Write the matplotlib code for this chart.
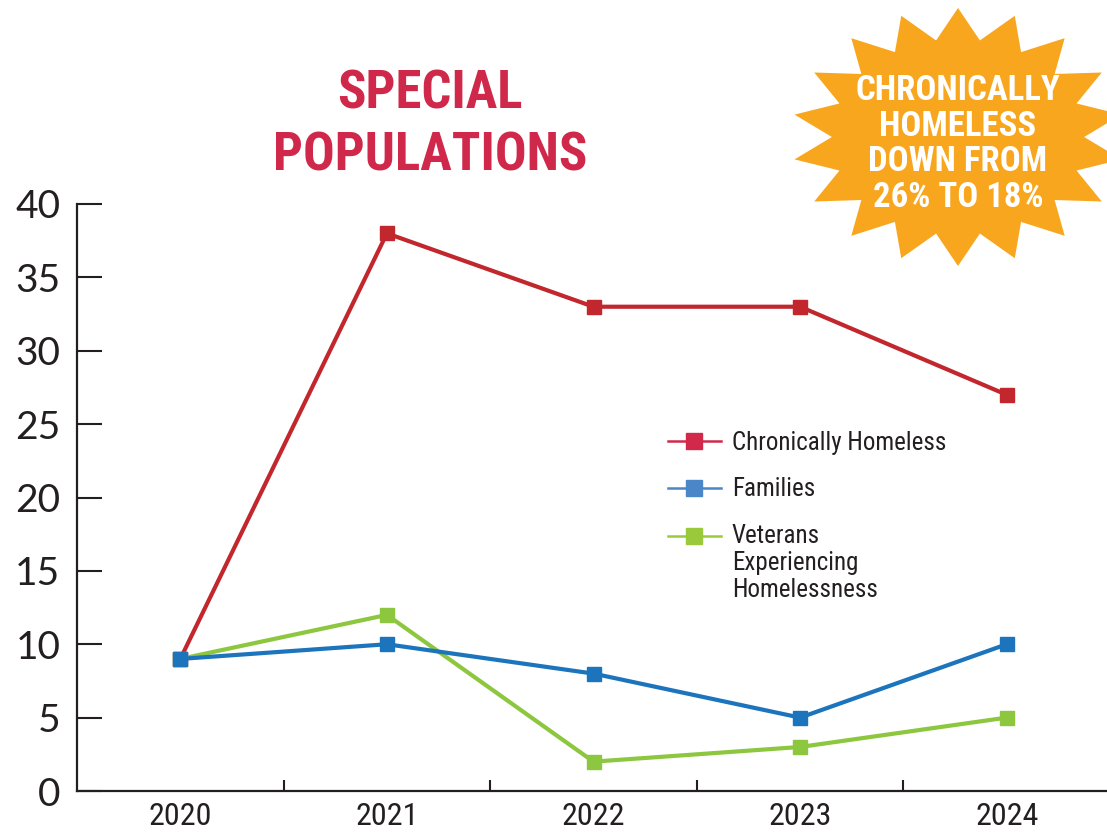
import numpy as np
import matplotlib.pyplot as plt
from matplotlib.lines import Line2D
from matplotlib.patches import Polygon
from matplotlib.legend_handler import HandlerLine2D

years = ['2020', '2021', '2022', '2023', '2024']
chronic = [9, 38, 33, 33, 27]
families = [9, 10, 8, 5, 10]
veterans = [9, 12, 2, 3, 5]
labels = ['Chronically Homeless', 'Families',
          'Veterans\nExperiencing\nHomelessness']

narrow = ['Roboto Condensed', 'Liberation Sans Narrow', 'DejaVu Sans Condensed',
          'Roboto', 'DejaVu Sans']
dark = '#231f20'


class HandlerFirstLine(HandlerLine2D):
    # put the handle beside the first line of a multi-line label
    def __init__(self, shift, **kw):
        super().__init__(**kw)
        self.shift = shift

    def create_artists(self, legend, orig_handle, xdescent, ydescent, width,
                       height, fontsize, trans):
        return super().create_artists(legend, orig_handle, xdescent,
                                      ydescent - 2 * self.shift, width, height,
                                      fontsize, trans)


fig = plt.figure(figsize=(11.07, 8.32), dpi=100)
W, H = 1107, 832
ax = fig.add_axes([77 / W, 1 - 791 / H, 1033 / W, 587 / H])
ax.patch.set_alpha(0)

x = np.arange(len(years))
ax.plot(x, chronic, color='#c1272d', lw=3, marker='s', ms=10.5, zorder=3)
ax.plot(x, veterans, color='#8dc63f', lw=3, marker='s', ms=10.5, zorder=4)
ax.plot(x, families, color='#1c75bc', lw=3, marker='s', ms=10.5, zorder=5)

ax.set_xlim(-0.5, 4.5)
ax.set_ylim(0, 40)
ax.set_yticks(range(0, 41, 5))
ax.tick_params(axis='y', direction='in', length=18, width=1.5, color=dark,
               labelsize=28, labelcolor=dark, pad=12)
for t in ax.get_yticklabels():
    t.set_family(['Lato', 'DejaVu Sans'])

# ticks between categories, labels at category centres
ax.set_xticks(x[:-1] + 0.5)
ax.set_xticklabels([])
ax.tick_params(axis='x', which='major', direction='in', length=8, width=1.5, color=dark)
ax.set_xticks(x, minor=True)
ax.set_xticklabels(years, minor=True, family=narrow, fontsize=23, color=dark)
ax.tick_params(axis='x', which='minor', length=0, pad=8)

for s in ['top', 'right']:
    ax.spines[s].set_visible(False)
for s in ['left', 'bottom']:
    ax.spines[s].set_linewidth(1.6)
    ax.spines[s].set_color(dark)

handles = [Line2D([], [], color=c, lw=1.8, marker='s', ms=11)
           for c in ['#d2294b', '#4a86c8', '#9aca3c']]
leg = ax.legend(handles, labels, loc='upper left',
                bbox_to_anchor=((668 - 77) / 1033, (791 - 431) / 587),
                frameon=False, borderpad=0, borderaxespad=0,
                handlelength=2.1, handletextpad=0.45, labelspacing=0.9,
                handler_map={handles[2]: HandlerFirstLine(20.5)},
                prop={'family': narrow, 'size': 18})
for t in leg.get_texts():
    t.set_color(dark)
    t.set_linespacing(1.17)

# overlay in pixel coordinates for title and starburst
ov = fig.add_axes([0, 0, 1, 1])
ov.set_xlim(0, W)
ov.set_ylim(H, 0)
ov.axis('off')

ov.text(430, 125, 'SPECIAL\nPOPULATIONS', ha='center', va='center',
        family=narrow, weight='bold', fontsize=38, color='#d0284a',
        linespacing=1.28)

cx, cy = 958, 137
ang = np.radians(np.arange(0, 360, 10))
rad = np.where(np.arange(36) % 2 == 1, 1.0, 0.76)
pts = np.column_stack([cx + 166 * rad * np.cos(ang), cy - 129 * rad * np.sin(ang)])
ov.add_patch(Polygon(pts, closed=True, color='#f9a61f', lw=0))
ov.text(cx, 144, 'CHRONICALLY\nHOMELESS\nDOWN FROM\n26% TO 18%', ha='center',
        va='center', family=narrow, weight='bold', fontsize=25, color='white',
        linespacing=1.09)

fig.savefig('out.png', dpi=100)
